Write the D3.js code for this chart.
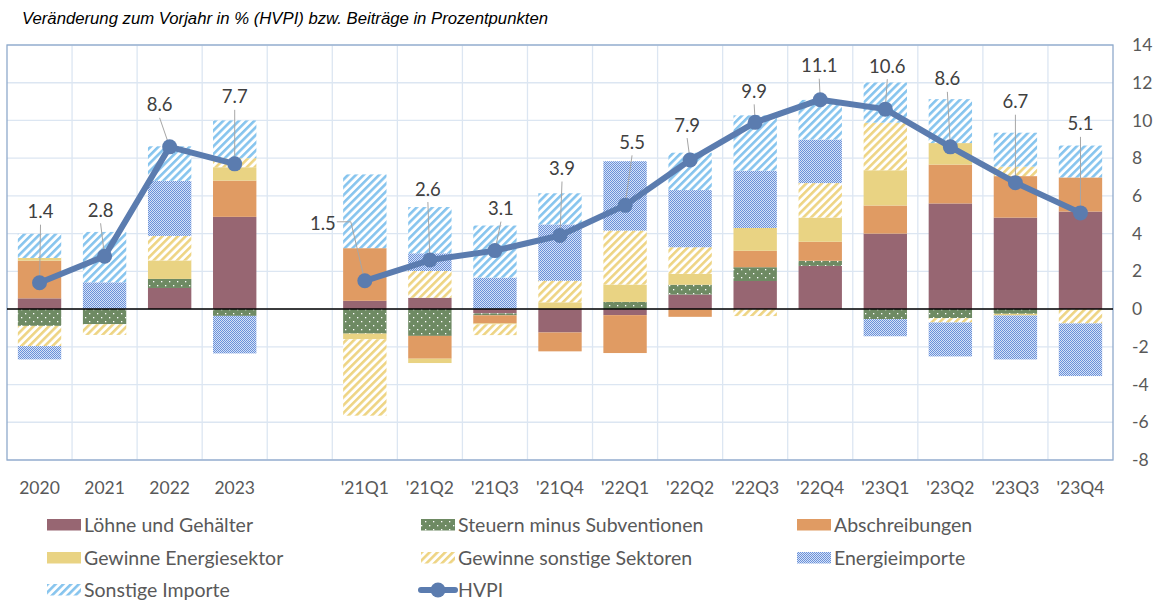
<!DOCTYPE html>
<html>
<head>
<meta charset="utf-8">
<script src="https://cdn.jsdelivr.net/npm/d3@7"></script>
<style>
  body { margin: 0; background: #fff; }
  svg { display: block; }
</style>
</head>
<body>
<script>
// categories (the blank slot separates annual and quarterly values)
const categories = ["2020", "2021", "2022", "2023", "", "'21Q1", "'21Q2", "'21Q3", "'21Q4",
  "'22Q1", "'22Q2", "'22Q3", "'22Q4", "'23Q1", "'23Q2", "'23Q3", "'23Q4"];

const seriesNames = ["Löhne und Gehälter", "Steuern minus Subventionen", "Abschreibungen",
  "Gewinne Energiesektor", "Gewinne sonstige Sektoren", "Energieimporte", "Sonstige Importe"];

const loehne      = [0.57, 0, 1.12, 4.89, null, 0.44, 0.6, -0.23, -1.24, -0.32, 0.77, 1.49, 2.29, 4.0, 5.6, 4.85, 5.17];
const steuern     = [-0.89, -0.8, 0.48, -0.36, null, -1.3, -1.42, -0.1, 0, 0.38, 0.52, 0.73, 0.27, -0.53, -0.48, -0.25, 0];
const abschreib   = [2.0, 0, 0, 1.92, null, 2.79, -1.21, -0.43, -1.0, -2.01, -0.41, 0.87, 1.01, 1.49, 2.06, 2.2, 1.81];
const gewEnergie  = [0.14, 0, 0.98, 0.71, null, -0.3, -0.23, -0.05, 0.36, 0.92, 0.58, 1.21, 1.28, 1.87, 1.14, -0.09, 0];
const gewSonstige = [-1.07, -0.57, 1.3, 0.48, null, -4.05, 1.42, -0.57, 1.14, 2.86, 1.41, -0.37, 1.83, 2.52, -0.23, 0.5, -0.76];
const energieImp  = [-0.71, 1.42, 2.92, -1.99, null, 0, 0.94, 1.67, 2.99, 3.68, 3.03, 3.04, 2.31, -0.91, -1.8, -2.33, -2.79];
const sonstImp    = [1.28, 2.67, 1.83, 2.0, null, 3.91, 2.45, 2.76, 1.65, 0, 1.98, 2.93, 2.1, 2.13, 2.33, 1.8, 1.69];
const hvpi        = [1.4, 2.8, 8.6, 7.7, null, 1.5, 2.6, 3.1, 3.9, 5.5, 7.9, 9.9, 11.1, 10.6, 8.6, 6.7, 5.1];

const yTicks = [-8, -6, -4, -2, 0, 2, 4, 6, 8, 10, 12, 14];

// manual label placement (pixel offset from the point), like the dragged labels in the original
const labelShift = [[1, -71], [-4, -46], [-10, -42], [0, -67], null, [-42, -57], [-2, -71], [6, -42], [2, -67],
  [7, -63], [-3, -35], [-1, -31], [-1, -34], [2, -43], [-3, -68], [0, -81], [0, -89]];

const width = 1161, height = 601;
const plot = { left: 7, right: 1113, top: 45, bottom: 460 };
const font = "Lato, 'Open Sans', sans-serif";
const textGray = "#595959";

const svg = d3.select("body").append("svg")
    .attr("width", width)
    .attr("height", height);

// fill patterns
const defs = svg.append("defs");

function hatch(id, color) {
  const p = defs.append("pattern")
      .attr("id", id)
      .attr("patternUnits", "userSpaceOnUse")
      .attr("width", 5.5).attr("height", 5.5)
      .attr("patternTransform", "rotate(45)");
  p.append("rect").attr("width", 5.5).attr("height", 5.5).attr("fill", "#fff");
  p.append("rect").attr("width", 2.6).attr("height", 5.5).attr("fill", color);
}
hatch("hatchYellow", "#eed483");
hatch("hatchBlue", "#86c4ee");

const checker = defs.append("pattern")
    .attr("id", "checkerBlue")
    .attr("patternUnits", "userSpaceOnUse")
    .attr("width", 2).attr("height", 2);
checker.append("rect").attr("width", 2).attr("height", 2).attr("fill", "#d6e2f6");
checker.append("rect").attr("width", 1).attr("height", 1).attr("fill", "#6a91da");
checker.append("rect").attr("x", 1).attr("y", 1).attr("width", 1).attr("height", 1).attr("fill", "#6a91da");

const dots = defs.append("pattern")
    .attr("id", "dotsGreen")
    .attr("patternUnits", "userSpaceOnUse")
    .attr("width", 8).attr("height", 8);
dots.append("rect").attr("width", 8).attr("height", 8).attr("fill", "#6e8a63");
dots.append("rect").attr("x", 1).attr("y", 1).attr("width", 1.3).attr("height", 1.3).attr("fill", "#fff");
dots.append("rect").attr("x", 5).attr("y", 5).attr("width", 1.3).attr("height", 1.3).attr("fill", "#fff");

const fills = ["#976672", "url(#dotsGreen)", "#e09b63", "#e9d383",
  "url(#hatchYellow)", "url(#checkerBlue)", "url(#hatchBlue)"];
const lineColor = "#5b7caf";

// scales
const x = d3.scaleBand()
    .domain(d3.range(categories.length))
    .range([plot.left, plot.right])
    .paddingInner(1 / 3)
    .paddingOuter(1 / 6);

const step = x.step();

const y = d3.scaleLinear()
    .domain([-8, 14])
    .range([plot.bottom, plot.top]);

// gridlines
svg.append("g")
    .attr("stroke", "#dce6f2")
    .attr("stroke-width", 1.3)
  .selectAll("line")
  .data(yTicks)
  .join("line")
    .attr("x1", plot.left)
    .attr("x2", plot.right)
    .attr("y1", d => y(d))
    .attr("y2", d => y(d));

svg.append("g")
    .attr("stroke", "#dce6f2")
    .attr("stroke-width", 1.3)
  .selectAll("line")
  .data(d3.range(1, categories.length))
  .join("line")
    .attr("x1", i => plot.left + i * step)
    .attr("x2", i => plot.left + i * step)
    .attr("y1", plot.top)
    .attr("y2", plot.bottom);

// plot border
svg.append("rect")
    .attr("x", plot.left)
    .attr("y", plot.top)
    .attr("width", plot.right - plot.left)
    .attr("height", plot.bottom - plot.top)
    .attr("fill", "none")
    .attr("stroke", "#8faacb")
    .attr("stroke-width", 1.3);

// stacked bars (diverging)
const table = categories.map((c, i) => ({
  i,
  s0: loehne[i], s1: steuern[i], s2: abschreib[i], s3: gewEnergie[i],
  s4: gewSonstige[i], s5: energieImp[i], s6: sonstImp[i]
})).filter(d => d.s0 !== null);

const stack = d3.stack()
    .keys(["s0", "s1", "s2", "s3", "s4", "s5", "s6"])
    .offset(d3.stackOffsetDiverging);

const layers = stack(table);

svg.append("g")
  .selectAll("g")
  .data(layers)
  .join("g")
    .attr("fill", (d, k) => fills[k])
  .selectAll("rect")
  .data(d => d)
  .join("rect")
    .attr("x", d => x(d.data.i))
    .attr("width", x.bandwidth())
    .attr("y", d => y(Math.max(d[0], d[1])))
    .attr("height", d => Math.abs(y(d[0]) - y(d[1])));

// zero line
svg.append("line")
    .attr("x1", plot.left)
    .attr("x2", plot.right)
    .attr("y1", y(0))
    .attr("y2", y(0))
    .attr("stroke", "#000")
    .attr("stroke-width", 1.5);

// right axis labels
svg.append("g")
    .attr("font-family", font)
    .attr("font-size", 17.5)
    .attr("fill", textGray)
  .selectAll("text")
  .data(yTicks)
  .join("text")
    .attr("x", 1132)
    .attr("y", d => y(d))
    .attr("dy", "0.35em")
    .text(d => d);

// category labels
svg.append("g")
    .attr("font-family", font)
    .attr("font-size", 17.5)
    .attr("fill", textGray)
    .attr("text-anchor", "middle")
  .selectAll("text")
  .data(categories)
  .join("text")
    .attr("x", (d, i) => x(i) + x.bandwidth() / 2)
    .attr("y", 488)
    .attr("dy", "0.35em")
    .text(d => d);

// HVPI line, leader lines, markers, labels
const pts = hvpi.map((v, i) => ({ v, i, cx: x(i) + x.bandwidth() / 2, cy: v === null ? 0 : y(v) }));
const valid = pts.filter(d => d.v !== null);

svg.append("g")
    .attr("stroke", "#a6a6a6")
    .attr("stroke-width", 1)
    .attr("fill", "none")
  .selectAll("path")
  .data(valid)
  .join("path")
    .attr("d", d => {
      const [dx, dy] = labelShift[d.i];
      const lx = d.cx + dx, ly = d.cy + dy;
      if (Math.abs(dx) > 20) {
        return `M${lx + 14},${ly - 2}H${lx + 28}L${d.cx},${d.cy}`;
      }
      return `M${lx},${ly + 13}L${d.cx},${d.cy}`;
    });

const line = d3.line()
    .defined(d => d.v !== null)
    .x(d => d.cx)
    .y(d => d.cy);

svg.append("path")
    .datum(pts)
    .attr("fill", "none")
    .attr("stroke", lineColor)
    .attr("stroke-width", 6)
    .attr("stroke-linejoin", "round")
    .attr("d", line);

svg.append("g")
    .attr("fill", lineColor)
  .selectAll("circle")
  .data(valid)
  .join("circle")
    .attr("cx", d => d.cx)
    .attr("cy", d => d.cy)
    .attr("r", 7.5);

svg.append("g")
    .attr("font-family", font)
    .attr("font-size", 18.5)
    .attr("fill", "#404040")
    .attr("text-anchor", "middle")
  .selectAll("text")
  .data(valid)
  .join("text")
    .attr("x", d => d.cx + labelShift[d.i][0])
    .attr("y", d => d.cy + labelShift[d.i][1])
    .attr("dy", "0.35em")
    .text(d => d.v.toFixed(1));

// title
svg.append("text")
    .attr("x", 22)
    .attr("y", 24)
    .attr("font-family", "'Liberation Sans', Arial, sans-serif")
    .attr("font-style", "italic")
    .attr("font-size", 16)
    .attr("fill", "#000")
    .attr("textLength", 526)
    .attr("lengthAdjust", "spacingAndGlyphs")
    .text("Veränderung zum Vorjahr in % (HVPI) bzw. Beiträge in Prozentpunkten");

// legend
const legendItems = seriesNames.map((name, k) => ({ name, fill: fills[k] }))
    .concat([{ name: "HVPI", fill: null }]);
const colX = [47, 421, 797];
const rowY = [525, 558, 590];

const legend = svg.append("g")
    .attr("font-family", font)
    .attr("font-size", 19.5)
    .attr("fill", textGray);

legendItems.forEach((d, k) => {
  const lx = colX[k % 3], ly = rowY[Math.floor(k / 3)];
  if (d.fill) {
    legend.append("rect")
        .attr("x", lx)
        .attr("y", ly - 6)
        .attr("width", 34)
        .attr("height", 11.5)
        .attr("fill", d.fill);
  } else {
    legend.append("line")
        .attr("x1", lx)
        .attr("x2", lx + 34)
        .attr("y1", ly)
        .attr("y2", ly)
        .attr("stroke", lineColor)
        .attr("stroke-width", 6)
        .attr("stroke-linecap", "round");
    legend.append("circle")
        .attr("cx", lx + 17)
        .attr("cy", ly)
        .attr("r", 7.5)
        .attr("fill", lineColor);
  }
  legend.append("text")
      .attr("x", lx + 37)
      .attr("y", ly)
      .attr("dy", "0.35em")
      .text(d.name);
});
</script>
</body>
</html>
